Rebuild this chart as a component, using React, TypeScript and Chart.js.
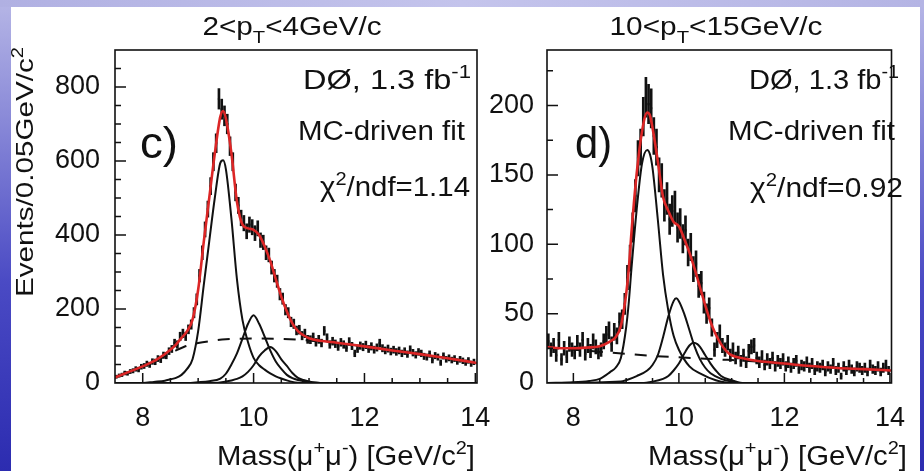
import React, { useEffect, useRef } from "react";
import { Chart, registerables } from "chart.js";

Chart.register(...registerables);

const FONT = '"Liberation Sans", Arial, Helvetica, sans-serif';
const RED = "#dc2626";
const INK = "#111111";

const MASS_MIN = 7.5;
const MASS_MAX = 14.03;
const BIN_WIDTH = 0.05;

const X_MAJOR_TICKS = [8, 10, 12, 14];
const Y_MAJOR_TICKS_C = [0, 200, 400, 600, 800];
const Y_MAJOR_TICKS_D = [0, 50, 100, 150, 200];

// Panel c) 2<pT<4 GeV/c : events per 0.05 GeV bin, 7.5 .. 14.0
const countsC = [
  17, 20, 22, 27, 26, 31, 33, 38, 36, 44,
  46, 52, 49, 58, 57, 66, 63, 75, 74, 86,
  92, 108, 104, 126, 134, 126, 145, 158, 190, 226,
  290, 352, 415, 470, 532, 598, 648, 768, 740, 722,
  700, 640, 598, 515, 480, 446, 432, 410, 428, 421,
  405, 418, 386, 380, 352, 346, 312, 290, 275, 240,
  228, 198, 190, 165, 160, 142, 144, 128, 134, 118,
  117, 124, 110, 118, 108, 141, 122, 104, 113, 106,
  98, 110, 104, 95, 112, 100, 80, 92, 101, 97,
  103, 92, 99, 90, 96, 108, 94, 88, 93, 85,
  90, 84, 88, 80, 86, 78, 91, 82, 76, 84,
  80, 72, 70, 78, 62, 74, 70, 55, 73, 64,
  68, 62, 66, 58, 64, 60, 55, 61, 52, 57,
];

// Panel d) 10<pT<15 GeV/c
const countsD = [
  30, 24, 27, 20, 31, 17, 25, 19, 28, 24,
  22, 29, 24, 31, 21, 27, 23, 30, 26, 22,
  24, 30, 35, 38, 28, 37, 34, 44, 46, 57,
  76, 90, 112, 135, 162, 170, 192, 206, 201, 198,
  178, 170, 150, 146, 128, 133, 118, 124, 127, 112,
  115, 104, 110, 94, 98, 82, 86, 70, 72, 58,
  50, 54, 40, 24, 31, 36, 27, 24, 29, 20,
  24, 18, 22, 16, 20, 15, 23, 26, 27, 18,
  15, 19, 13, 17, 14, 18, 12, 16, 14, 17,
  12, 15, 11, 14, 16, 10, 13, 12, 15, 11,
  14, 9, 12, 11, 13, 8, 12, 10, 14, 9,
  11, 5, 12, 9, 13, 10, 8, 12, 11, 9,
  11, 8, 13, 10, 9, 12, 8, 11, 13, 9,
];

// Fit curves sampled from the figure: [mass, events]
const totalFitC = [
  [7.5, 15], [7.75, 30], [8.0, 45], [8.25, 63], [8.5, 90], [8.6, 104], [8.7, 122], [8.8, 140],
  [8.9, 172], [9.0, 252], [9.1, 380], [9.2, 500], [9.3, 620], [9.4, 720], [9.45, 735], [9.5, 715],
  [9.6, 621], [9.7, 490], [9.8, 428], [9.9, 418], [10.0, 414], [10.1, 400], [10.2, 369], [10.3, 330],
  [10.4, 281], [10.5, 233], [10.6, 193], [10.7, 161], [10.8, 140], [10.9, 129], [11.0, 121],
  [11.2, 114], [11.5, 109], [12.0, 99], [12.5, 88], [13.0, 78], [13.5, 67], [14.03, 54],
];
const backgroundC = [
  [7.5, 15], [7.75, 30], [8.0, 45], [8.25, 62], [8.5, 80], [8.6, 88], [8.75, 98], [9.0, 108],
  [9.25, 114], [9.5, 118], [10.0, 120], [10.5, 119], [11.0, 115], [11.5, 108], [12.0, 99],
  [12.5, 88], [13.0, 78], [13.5, 67], [14.03, 54],
];
const upsilon1C = [
  [7.5, 0], [8.0, 0], [8.2, 3], [8.4, 6], [8.5, 10], [8.6, 14], [8.7, 22], [8.8, 38], [8.9, 65],
  [9.0, 140], [9.1, 263], [9.2, 383], [9.3, 500], [9.4, 595], [9.45, 602], [9.5, 578], [9.6, 444],
  [9.7, 280], [9.8, 170], [9.9, 110], [10.0, 68], [10.1, 48], [10.2, 36], [10.3, 26], [10.4, 18],
  [10.5, 12], [10.6, 7], [10.7, 3], [10.8, 1], [11.0, 0], [14.03, 0],
];
const upsilon2C = [
  [7.5, 0], [8.8, 0], [9.0, 2], [9.2, 5], [9.4, 12], [9.5, 25], [9.6, 50], [9.7, 80], [9.8, 120],
  [9.9, 160], [10.0, 183], [10.1, 160], [10.2, 125], [10.3, 88], [10.4, 58], [10.5, 38], [10.6, 22],
  [10.7, 13], [10.8, 8], [10.9, 5], [11.0, 2], [11.2, 0], [14.03, 0],
];
const upsilon3C = [
  [7.5, 0], [9.3, 0], [9.5, 4], [9.6, 7], [9.7, 11], [9.8, 18], [9.9, 30], [10.0, 48], [10.1, 72],
  [10.2, 88], [10.3, 97], [10.4, 86], [10.5, 64], [10.6, 46], [10.7, 27], [10.8, 14], [10.9, 8],
  [11.0, 4], [11.2, 0], [14.03, 0],
];

const totalFitD = [
  [7.5, 26], [7.75, 25], [8.0, 25], [8.25, 25.5], [8.5, 26.5], [8.7, 30], [8.8, 33], [8.9, 41],
  [9.0, 64], [9.05, 82], [9.1, 108], [9.2, 151], [9.3, 181], [9.4, 195], [9.45, 193], [9.5, 184],
  [9.6, 160], [9.7, 134], [9.8, 124], [9.9, 116], [10.0, 113], [10.1, 104], [10.2, 94], [10.3, 82],
  [10.4, 69], [10.5, 56], [10.6, 44], [10.7, 35], [10.8, 28], [10.9, 23], [11.0, 20], [11.25, 17.5],
  [11.5, 15.8], [12.0, 14], [12.5, 12.2], [13.0, 10.8], [13.5, 10], [14.03, 9],
];
const backgroundD = [
  [7.5, 25.5], [8.0, 24], [8.5, 22.5], [9.0, 21], [9.5, 19.5], [10.0, 18.5], [10.5, 17.5],
  [11.0, 16.5], [11.5, 15.5], [12.0, 14], [12.5, 12.2], [13.0, 10.8], [13.5, 10], [14.03, 9],
];
const upsilon1D = [
  [7.5, 0], [8.0, 0.5], [8.3, 1.5], [8.5, 3], [8.7, 8], [8.8, 11], [8.9, 18], [9.0, 40], [9.05, 58],
  [9.1, 82], [9.2, 125], [9.3, 158], [9.4, 168], [9.45, 165], [9.5, 155], [9.6, 118], [9.7, 78],
  [9.8, 52], [9.9, 34], [10.0, 24], [10.2, 12], [10.4, 7], [10.7, 2], [11.0, 0], [14.03, 0],
];
const upsilon2D = [
  [7.5, 0], [8.9, 1], [9.0, 2], [9.2, 5], [9.4, 9], [9.5, 13], [9.6, 20], [9.7, 33], [9.8, 48],
  [9.9, 59], [9.95, 61], [10.0, 59], [10.1, 50], [10.2, 38], [10.3, 26], [10.4, 17], [10.5, 11],
  [10.6, 7], [10.8, 3], [11.0, 1], [11.2, 0], [14.03, 0],
];
const upsilon3D = [
  [7.5, 0], [9.3, 0], [9.5, 1], [9.7, 3], [9.8, 5], [9.9, 9], [10.0, 14], [10.1, 21], [10.2, 27],
  [10.28, 29], [10.35, 28], [10.4, 26], [10.5, 20], [10.6, 14], [10.7, 9], [10.8, 5], [11.0, 2],
  [11.2, 0], [14.03, 0],
];

type Seg = { t: string; k?: "sub" | "sup" };
type TextSpec = {
  segs: Seg[]; x: number; y: number; size: number; width: number;
  anchor?: "left" | "right" | "center"; rotate?: boolean;
};

const X_TITLE: Seg[] = [
  { t: "Mass(\u03bc" }, { t: "+", k: "sup" }, { t: "\u03bc" }, { t: "-", k: "sup" },
  { t: ") [GeV/c" }, { t: "2", k: "sup" }, { t: "]" },
];
const LUMI: Seg[] = [{ t: "D\u00d8, 1.3 fb" }, { t: "-1", k: "sup" }];
const MCFIT: Seg[] = [{ t: "MC-driven fit" }];

const panels = [
  {
    id: "c",
    counts: countsC, total: totalFitC, bg: backgroundC, s1: upsilon1C, s2: upsilon2C, s3: upsilon3C,
    yMax: 900, yTicks: Y_MAJOR_TICKS_C, yMinor: 50, yMajorStep: 200,
    padding: { left: 55, right: 447, top: 50, bottom: 28 }, yPad: 15,
    texts: [
      { segs: [{ t: "2<p" }, { t: "T", k: "sub" }, { t: "<4GeV/c" }], x: 292, y: 35, size: 25, width: 179, anchor: "center" },
      { segs: LUMI, x: 471, y: 89, size: 27, width: 168, anchor: "right" },
      { segs: MCFIT, x: 465, y: 140, size: 27, width: 167, anchor: "right" },
      { segs: [{ t: "\u03c7" }, { t: "2", k: "sup" }, { t: "/ndf=1.14" }], x: 470, y: 196, size: 27, width: 150, anchor: "right" },
      { segs: [{ t: "c)" }], x: 140, y: 158, size: 45, width: 38 },
      { segs: X_TITLE, x: 475, y: 465, size: 27, width: 258, anchor: "right" },
      { segs: [{ t: "Events/0.05GeV/c" }, { t: "2", k: "sup" }], x: 33, y: 297, size: 24, width: 250, rotate: true },
    ] as TextSpec[],
  },
  {
    id: "d",
    counts: countsD, total: totalFitD, bg: backgroundD, s1: upsilon1D, s2: upsilon2D, s3: upsilon3D,
    yMax: 240, yTicks: Y_MAJOR_TICKS_D, yMinor: 25, yMajorStep: 50,
    padding: { left: 487, right: 15, top: 50, bottom: 28 }, yPad: 13,
    texts: [
      { segs: [{ t: "10<p" }, { t: "T", k: "sub" }, { t: "<15GeV/c" }], x: 716, y: 35, size: 25, width: 213, anchor: "center" },
      { segs: LUMI, x: 899, y: 89, size: 27, width: 150, anchor: "right" },
      { segs: MCFIT, x: 895, y: 140, size: 27, width: 167, anchor: "right" },
      { segs: [{ t: "\u03c7" }, { t: "2", k: "sup" }, { t: "/ndf=0.92" }], x: 903, y: 197, size: 27, width: 153, anchor: "right" },
      { segs: [{ t: "d)" }], x: 575, y: 158, size: 45, width: 37 },
      { segs: X_TITLE, x: 907, y: 465, size: 27, width: 259, anchor: "right" },
    ] as TextSpec[],
  },
];

function drawRich(ctx: CanvasRenderingContext2D, spec: TextSpec) {
  const { segs, x, y, size, width, rotate, anchor = "left" } = spec;
  const parts = segs.map((s) => {
    const fs = s.k ? size * 0.68 : size;
    ctx.font = `${fs}px ${FONT}`;
    return { ...s, fs, w: ctx.measureText(s.t).width };
  });
  const natural = parts.reduce((a, p) => a + p.w, 0);
  const sx = width ? width / natural : 1;
  const shift = anchor === "right" ? -natural : anchor === "center" ? -natural / 2 : 0;
  ctx.save();
  ctx.translate(x, y);
  if (rotate) ctx.rotate(-Math.PI / 2);
  ctx.scale(sx, 1);
  ctx.fillStyle = INK;
  ctx.textBaseline = "alphabetic";
  ctx.textAlign = "left";
  let cx = shift;
  for (const p of parts) {
    ctx.font = `${p.fs}px ${FONT}`;
    const dy = p.k === "sub" ? size * 0.3 : p.k === "sup" ? -size * 0.42 : 0;
    ctx.fillText(p.t, cx, dy);
    cx += p.w;
  }
  ctx.restore();
}

function decorPlugin(p: any) {
  return {
    id: "decor_" + p.id,
    afterDraw(chart: any) {
      const { ctx, chartArea: a, scales } = chart;
      const xs = scales.x;
      const ys = scales.y;
      ctx.save();
      ctx.strokeStyle = INK;
      ctx.lineWidth = 1.5;
      ctx.beginPath();
      for (let i = Math.ceil(MASS_MIN / 0.5); i <= Math.floor(MASS_MAX / 0.5); i++) {
        const v = i * 0.5;
        const px = xs.getPixelForValue(v);
        if (px < a.left + 1 || px > a.right - 1) continue;
        const len = v % 2 === 0 ? 10 : 5;
        ctx.moveTo(px, a.bottom);
        ctx.lineTo(px, a.bottom - len);
      }
      for (let v = p.yMinor; v < p.yMax; v += p.yMinor) {
        const py = ys.getPixelForValue(v);
        if (py < a.top + 1) continue;
        const len = v % p.yMajorStep === 0 ? 11 : 6;
        ctx.moveTo(a.left, py);
        ctx.lineTo(a.left + len, py);
      }
      ctx.stroke();
      ctx.lineWidth = 1.6;
      ctx.strokeRect(a.left, a.top, a.right - a.left, a.bottom - a.top);
      ctx.restore();
      for (const t of p.texts) drawRich(ctx, t);
    },
  };
}

function buildConfig(p: any) {
  const centers = p.counts.map((_: number, i: number) => MASS_MIN + BIN_WIDTH * (i + 0.5));
  const errBars = p.counts.map((n: number, i: number) => ({ x: centers[i], y: [n - Math.sqrt(n), n + Math.sqrt(n)] }));
  const points = p.counts.map((n: number, i: number) => ({ x: centers[i], y: n }));
  const toXY = (arr: number[][]) => arr.map(([x, y]) => ({ x, y }));
  const curve = (data: number[][], color: string, width: number, dash: number[], order: number) => ({
    type: "line",
    data: toXY(data),
    borderColor: color,
    borderWidth: width,
    borderDash: dash,
    pointRadius: 0,
    cubicInterpolationMode: "monotone",
    fill: false,
    order,
  });
  const tickFont = { family: FONT, size: 27 };
  return {
    type: "bar",
    data: {
      datasets: [
        curve(p.total, RED, 2.6, [], 0),
        curve(p.bg, INK, 2, [12, 10], 1),
        curve(p.s1, INK, 2, [], 1),
        curve(p.s2, INK, 2, [], 1),
        curve(p.s3, INK, 2, [], 1),
        { type: "scatter", data: points, pointStyle: "rect", pointRadius: 1.5, backgroundColor: INK, borderWidth: 0, order: 2 },
        { type: "bar", data: errBars, backgroundColor: INK, barThickness: 2, borderWidth: 0, grouped: false, order: 3 },
      ],
    },
    options: {
      responsive: false,
      animation: false,
      devicePixelRatio: 1,
      events: [],
      layout: { padding: p.padding },
      plugins: { legend: { display: false }, tooltip: { enabled: false }, title: { display: false } },
      scales: {
        x: {
          type: "linear",
          min: MASS_MIN,
          max: MASS_MAX,
          offset: false,
          grid: { display: false, drawTicks: false },
          border: { display: false },
          afterBuildTicks: (s: any) => { s.ticks = X_MAJOR_TICKS.map((v) => ({ value: v })); },
          afterFit: (s: any) => { s.height = 60; },
          ticks: { font: tickFont, color: INK, padding: 19, maxRotation: 0, autoSkip: false },
        },
        y: {
          type: "linear",
          min: 0,
          max: p.yMax,
          grid: { display: false, drawTicks: false },
          border: { display: false },
          afterBuildTicks: (s: any) => { s.ticks = p.yTicks.map((v: number) => ({ value: v })); },
          afterFit: (s: any) => { s.width = 60; },
          ticks: { font: tickFont, color: INK, padding: p.yPad, autoSkip: false },
        },
      },
    },
    plugins: [decorPlugin(p)],
  };
}

function Panel({ p }: { p: any }) {
  const ref = useRef<HTMLCanvasElement | null>(null);
  useEffect(() => {
    if (!ref.current) return;
    const chart = new Chart(ref.current, buildConfig(p) as any);
    return () => chart.destroy();
  }, [p]);
  return (
    <canvas
      ref={ref}
      width={924}
      height={471}
      style={{ position: "absolute", left: 0, top: 0, width: 924, height: 471 }}
    />
  );
}

export default function App() {
  return (
    <div
      style={{
        position: "fixed",
        left: 0,
        top: 0,
        width: 924,
        height: 471,
        overflow: "hidden",
        background: "linear-gradient(180deg, #b6b6e6 0%, #8a8ad8 25%, #4a4ac4 60%, #2c2cb0 100%)",
      }}
    >
      <div style={{ position: "absolute", left: 0, top: 0, width: 924, height: 7, background: "linear-gradient(90deg, #b0b0e2, #c4c4ec 50%, #b4b4e4)" }} />
      <div style={{ position: "absolute", left: 11, top: 7, width: 909, height: 464, background: "#ffffff" }} />
      {panels.map((p) => (
        <Panel key={p.id} p={p} />
      ))}
    </div>
  );
}
